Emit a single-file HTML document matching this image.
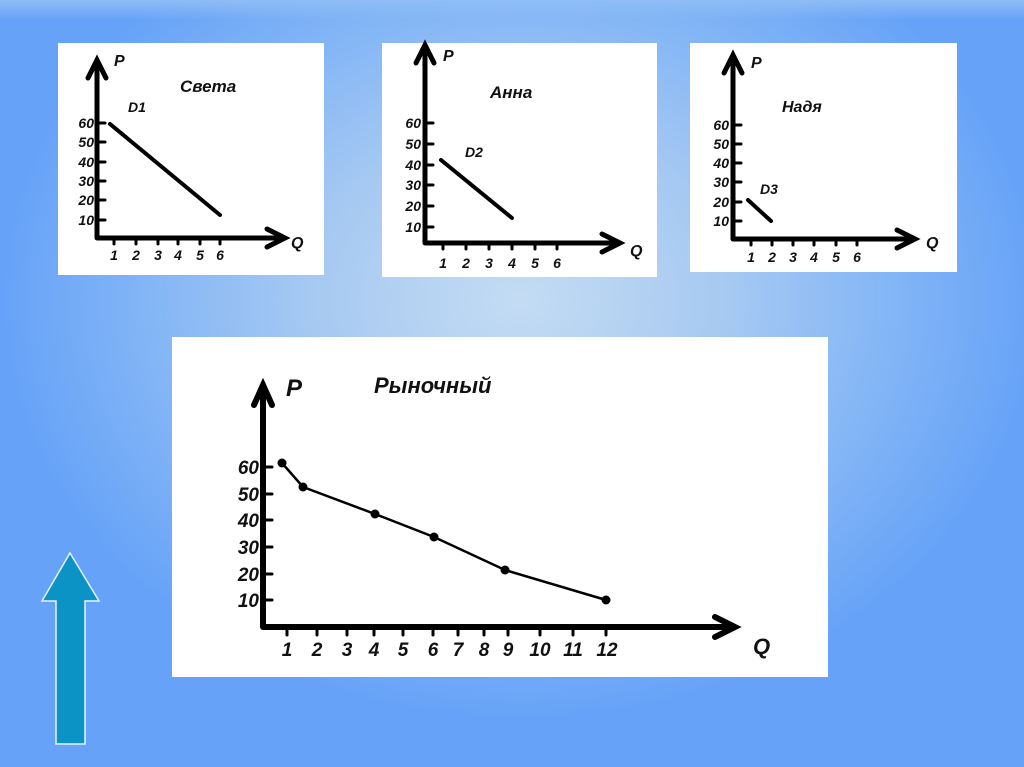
<!DOCTYPE html>
<html><head><meta charset="utf-8"><style>
html,body{margin:0;padding:0;}
body{width:1024px;height:767px;overflow:hidden;background:radial-gradient(ellipse 520px 420px at 520px 300px,#c4dcf3 0%,#a6c9f2 40%,#7fb3f6 75%,#66a2f7 100%);position:relative;font-family:"Liberation Sans",sans-serif;}
svg{position:absolute;left:0;top:0;}
text{font-family:"Liberation Sans",sans-serif;font-style:italic;font-weight:bold;fill:#111;}
</style></head><body>
<svg width="1024" height="767" viewBox="0 0 1024 767">
<defs><linearGradient id="tp" x1="0" y1="0" x2="0" y2="1"><stop offset="0" stop-color="#8fbdf5"/><stop offset="1" stop-color="#8fbdf5" stop-opacity="0"/></linearGradient></defs>
<rect x="0" y="0" width="1024" height="20" fill="url(#tp)"/>
<!-- panels -->
<rect x="58" y="43" width="266" height="232" fill="#fff"/>
<rect x="382" y="43" width="275" height="234" fill="#fff"/>
<rect x="690" y="43" width="267" height="229" fill="#fff"/>
<rect x="172" y="337" width="656" height="340" fill="#fff"/>
<g stroke="#000" fill="none" stroke-linecap="round">
<!-- Sveta -->
<path d="M97 238V60M88 78L97 60L106 78M97 238H285M267 229L285 238L267 247" stroke-width="5"/>
<path d="M97 123H105M97 142H105M97 162H105M97 181H105M97 200H105M97 220H105M114 238v6M136 238v6M158 238v6M178 238v6M200 238v6M220 238v6" stroke-width="3"/>
<path d="M110 124L220 215" stroke-width="4"/>
<!-- Anna -->
<path d="M425 243V45M416 63L425 45L434 63M425 243H620M602 234L620 243L602 252" stroke-width="5"/>
<path d="M425 123H433M425 144H433M425 165H433M425 185H433M425 206H433M425 227H433M443 243v6M466 243v6M489 243v6M512 243v6M535 243v6M557 243v6" stroke-width="3"/>
<path d="M441 160L512 218" stroke-width="4"/>
<!-- Nadya -->
<path d="M733 239V55M724 73L733 55L742 73M733 239H915M897 230L915 239L897 248" stroke-width="5"/>
<path d="M733 125H741M733 144H741M733 163H741M733 182H741M733 202H741M733 221H741M751 239v6M772 239v6M793 239v6M814 239v6M836 239v6M857 239v6" stroke-width="3"/>
<path d="M748 200L771 221" stroke-width="4"/>
<!-- Market -->
<path d="M263 627V385M254 405L263 385L272 405M263 627H735M715 617L735 627L715 637" stroke-width="6"/>
<path d="M263 467H272M263 494H272M263 520H272M263 547H272M263 574H272M263 600H272M287 627v8M317 627v8M347 627v8M374 627v8M403 627v8M433 627v8M458 627v8M484 627v8M508 627v8M540 627v8M573 627v8M606 627v8" stroke-width="3"/>
<polyline points="282,463 303,487 375,514 434,537 505,570 606,600" stroke-width="2.5"/>
</g>
<g fill="#000"><circle cx="282" cy="463" r="4.5"/><circle cx="303" cy="487" r="4.5"/><circle cx="375" cy="514" r="4.5"/><circle cx="434" cy="537" r="4.5"/><circle cx="505" cy="570" r="4.5"/><circle cx="606" cy="600" r="4.5"/></g>
<!-- Sveta texts -->
<g font-size="14">
<text x="114" y="66" font-size="16">P</text><text x="180" y="92" font-size="17">Света</text>
<text x="128" y="112" font-weight="normal" font-size="14">D1</text>
<g text-anchor="end"><text x="94" y="128">60</text><text x="94" y="147">50</text><text x="94" y="167">40</text><text x="94" y="186">30</text><text x="94" y="205">20</text><text x="94" y="225">10</text></g>
<g text-anchor="middle"><text x="114" y="260">1</text><text x="136" y="260">2</text><text x="158" y="260">3</text><text x="178" y="260">4</text><text x="200" y="260">5</text><text x="220" y="260">6</text></g>
<text x="291" y="248" font-size="16">Q</text>
</g>
<!-- Anna texts -->
<g font-size="14">
<text x="443" y="61" font-size="16">P</text><text x="490" y="98" font-size="17">Анна</text>
<text x="465" y="157" font-weight="normal">D2</text>
<g text-anchor="end"><text x="421" y="128">60</text><text x="421" y="149">50</text><text x="421" y="170">40</text><text x="421" y="190">30</text><text x="421" y="211">20</text><text x="421" y="232">10</text></g>
<g text-anchor="middle"><text x="443" y="268">1</text><text x="466" y="268">2</text><text x="489" y="268">3</text><text x="512" y="268">4</text><text x="535" y="268">5</text><text x="557" y="268">6</text></g>
<text x="630" y="256" font-size="16">Q</text>
</g>
<!-- Nadya texts -->
<g font-size="14">
<text x="751" y="68" font-size="16">P</text><text x="782" y="112" font-size="16">Надя</text>
<text x="760" y="194" font-weight="normal">D3</text>
<g text-anchor="end"><text x="729" y="130">60</text><text x="729" y="149">50</text><text x="729" y="168">40</text><text x="729" y="187">30</text><text x="729" y="207">20</text><text x="729" y="226">10</text></g>
<g text-anchor="middle"><text x="751" y="262">1</text><text x="772" y="262">2</text><text x="793" y="262">3</text><text x="814" y="262">4</text><text x="836" y="262">5</text><text x="857" y="262">6</text></g>
<text x="926" y="248" font-size="16">Q</text>
</g>
<!-- Market texts -->
<g font-size="19">
<text x="286" y="396" font-size="24">P</text><text x="374" y="393" font-size="22">Рыночный</text>
<g text-anchor="end"><text x="259" y="474">60</text><text x="259" y="501">50</text><text x="259" y="527">40</text><text x="259" y="554">30</text><text x="259" y="581">20</text><text x="259" y="607">10</text></g>
<g text-anchor="middle"><text x="287" y="656">1</text><text x="317" y="656">2</text><text x="347" y="656">3</text><text x="374" y="656">4</text><text x="403" y="656">5</text><text x="433" y="656">6</text><text x="458" y="656">7</text><text x="484" y="656">8</text><text x="508" y="656">9</text><text x="540" y="656">10</text><text x="573" y="656">11</text><text x="607" y="656">12</text></g>
<text x="753" y="654" font-size="22">Q</text>
</g>
<!-- big arrow -->
<path d="M70 553L99 601H85V744H56V601H42Z" fill="#0a93c4" stroke="#e6f4ff" stroke-width="1.5"/>
</svg>
</body></html>
